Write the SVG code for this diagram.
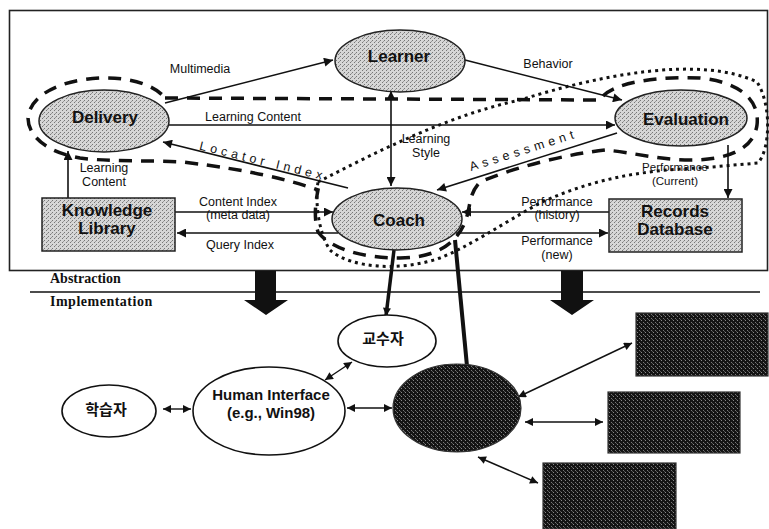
<svg xmlns="http://www.w3.org/2000/svg" width="769" height="529" viewBox="0 0 769 529">
<style>
.lbl{font-family:"Liberation Sans",Arial,sans-serif;font-size:12.5px;fill:#111;text-anchor:middle}
.sm{font-size:11.5px}
.nt{font-family:"Liberation Sans",Arial,sans-serif;font-size:17px;font-weight:bold;fill:#111;text-anchor:middle}
.kt{font-family:"Liberation Sans","Noto Sans CJK KR",sans-serif;font-size:15px;font-weight:bold;fill:#111;text-anchor:middle}
.ser{font-family:"Liberation Serif","Times New Roman",serif;font-size:14px;font-weight:bold;fill:#111}
.c{stroke:#111;stroke-width:1.6;fill:none}
.cb{stroke:#111;stroke-width:1.4;fill:none}
.lt{fill:url(#lt);stroke:#222;stroke-width:1.5}
.wh{fill:#fff;stroke:#111;stroke-width:1.6}
.dk{fill:url(#dk);stroke:#333;stroke-width:1.2}
</style>
<defs>
<pattern id="lt" width="4" height="4" patternUnits="userSpaceOnUse">
<rect width="4" height="4" fill="#d6d6d6"/><rect x="0" y="0" width="1" height="1" fill="#777"/><rect x="2" y="2" width="1" height="1" fill="#777"/><rect x="3" y="1" width="1" height="1" fill="#999"/>
</pattern>
<pattern id="dk" width="4" height="4" patternUnits="userSpaceOnUse">
<rect width="4" height="4" fill="#141414"/><rect x="1" y="0" width="1" height="1" fill="#888"/><rect x="3" y="2" width="1" height="1" fill="#777"/><rect x="0" y="3" width="1" height="1" fill="#555"/>
</pattern>
<marker id="ah" viewBox="0 0 10 10" refX="10" refY="5" markerWidth="11" markerHeight="9" orient="auto-start-reverse" markerUnits="userSpaceOnUse"><path d="M0,0 L10,5 L0,10 z" fill="#111"/></marker>
<marker id="as" viewBox="0 0 10 10" refX="10" refY="5" markerWidth="9" markerHeight="8" orient="auto-start-reverse" markerUnits="userSpaceOnUse"><path d="M0,0 L10,5 L0,10 z" fill="#111"/></marker>
</defs>
<rect width="769" height="529" fill="#fff"/>
<!-- frame -->
<rect x="9.5" y="10.5" width="758" height="260" fill="none" stroke="#222" stroke-width="1.6"/>
<line x1="30" y1="292" x2="760" y2="292" stroke="#111" stroke-width="1.6"/>
<text class="ser" x="50" y="283">Abstraction</text>
<text class="ser" x="50" y="306" letter-spacing="0.5">Implementation</text>
<!-- big arrows -->
<polygon points="255,271 276,271 276,300 288,300 266,315 244,300 255,300" fill="#111"/>
<polygon points="561,271 583,271 583,300 594,300 572,315 550,300 561,300" fill="#111"/>
<!-- boundary loops -->
<path d="M165,98 L600,100 C610,82 660,76 700,78 C740,82 760,100 757,125 C754,148 730,160 690,160 C660,160 630,152 605,150 C570,154 520,165 480,182 C470,192 470,205 468,212 C462,240 440,258 400,258 C360,258 330,248 318,232 C314,220 315,205 318,190 C290,180 250,170 183,162 C150,160 110,162 80,158 C45,152 28,135 28,118 C30,95 60,80 100,78 C130,77 155,85 165,98 Z" fill="none" stroke="#111" stroke-width="3.5" stroke-dasharray="13 9"/>
<path d="M318,182 C380,150 450,115 520,100 C600,75 700,55 757,82 C772,105 770,150 758,163 L700,168 C640,170 590,180 540,203 C500,225 470,246 440,258 C400,272 350,268 330,250 C318,232 315,200 318,182 Z" fill="none" stroke="#111" stroke-width="3" stroke-dasharray="3 4"/>
<!-- connectors -->
<g id="connectors">
<line class="c" x1="165" y1="103" x2="333" y2="60" marker-end="url(#ah)"/>
<line class="c" x1="465" y1="60" x2="622" y2="100" marker-end="url(#ah)"/>
<line class="c" x1="169" y1="125" x2="615" y2="125" marker-end="url(#ah)"/>
<line class="c" x1="391" y1="91" x2="391" y2="186" marker-start="url(#ah)" marker-end="url(#ah)"/>
<line class="c" x1="348" y1="188" x2="163" y2="142" marker-end="url(#ah)"/>
<line class="c" x1="617" y1="133" x2="437" y2="190" marker-end="url(#ah)"/>
<line class="c" x1="68" y1="198" x2="68" y2="151" marker-end="url(#ah)"/>
<line class="c" x1="175" y1="212" x2="333" y2="212" marker-end="url(#ah)"/>
<line class="c" x1="338" y1="233" x2="177" y2="233" marker-end="url(#ah)"/>
<line class="c" x1="609" y1="212" x2="462" y2="212" marker-end="url(#ah)"/>
<line class="c" x1="456" y1="233" x2="608" y2="233" marker-end="url(#ah)"/>
<line class="c" x1="728" y1="145" x2="728" y2="198" marker-end="url(#ah)"/>
<line x1="394" y1="250" x2="386" y2="316" stroke="#111" stroke-width="3.5" marker-end="url(#as)"/>
<line x1="455" y1="240" x2="467" y2="366" stroke="#111" stroke-width="4"/>
<line class="cb" x1="163" y1="409" x2="191" y2="409" marker-start="url(#as)" marker-end="url(#as)"/>
<line class="cb" x1="325" y1="380" x2="352" y2="362" marker-start="url(#as)" marker-end="url(#as)"/>
<line class="cb" x1="347" y1="408" x2="392" y2="408" marker-start="url(#as)" marker-end="url(#as)"/>
<line class="cb" x1="518" y1="397" x2="632" y2="343" marker-start="url(#as)" marker-end="url(#as)"/>
<line class="cb" x1="525" y1="422" x2="603" y2="422" marker-start="url(#as)" marker-end="url(#as)"/>
<line class="cb" x1="478" y1="457" x2="538" y2="483" marker-start="url(#as)" marker-end="url(#as)"/>
</g>
<!-- connector labels -->
<text class="lbl" x="200" y="73">Multimedia</text>
<text class="lbl" x="548" y="68">Behavior</text>
<text class="lbl" x="253" y="121">Learning Content</text>
<text class="lbl" x="426" y="143">Learning</text>
<text class="lbl" x="426" y="157">Style</text>
<text class="lbl" x="262" y="165" letter-spacing="4.2" transform="rotate(13.8 262 165)">Locator Index</text>
<text class="lbl" x="525" y="154" letter-spacing="4.5" transform="rotate(-17.6 525 154)">Assessment</text>
<text class="lbl" x="104" y="172">Learning</text>
<text class="lbl" x="104" y="186">Content</text>
<text class="lbl" x="238" y="206">Content Index</text>
<text class="lbl" x="238" y="219">(meta data)</text>
<text class="lbl" x="240" y="249">Query Index</text>
<text class="lbl" x="557" y="206">Performance</text>
<text class="lbl" x="557" y="219">(history)</text>
<text class="lbl" x="557" y="245">Performance</text>
<text class="lbl" x="557" y="259">(new)</text>
<text class="lbl sm" x="675" y="171">Performance</text>
<text class="lbl sm" x="675" y="185">(Current)</text>
<!-- nodes -->
<g id="delivery"><ellipse class="lt" cx="104" cy="121" rx="65" ry="31"/><text class="nt" x="105" y="123">Delivery</text></g>
<g id="learner"><ellipse class="lt" cx="400" cy="61" rx="65" ry="31"/><text class="nt" x="399" y="62">Learner</text></g>
<g id="evaluation"><ellipse class="lt" cx="681" cy="118" rx="66" ry="28"/><text class="nt" x="686" y="125">Evaluation</text></g>
<g id="coach"><ellipse class="lt" cx="397" cy="219" rx="65" ry="31"/><text class="nt" x="399" y="226">Coach</text></g>
<g id="knowledge-library"><rect class="lt" x="42" y="198" width="133" height="53"/><text class="nt" x="107" y="216" font-size="16">Knowledge</text><text class="nt" x="107" y="234" font-size="16">Library</text></g>
<g id="records-database"><rect class="lt" x="609" y="199" width="133" height="53"/><text class="nt" x="675" y="217" font-size="16">Records</text><text class="nt" x="675" y="235" font-size="16">Database</text></g>
<g id="professor"><ellipse class="wh" cx="387" cy="341" rx="49" ry="26"/><text class="kt" x="383" y="344" font-size="14">교수자</text></g>
<g id="student"><ellipse class="wh" cx="109" cy="411" rx="47" ry="26"/><text class="kt" x="106" y="415">학습자</text></g>
<g id="human-interface"><ellipse class="wh" cx="269" cy="411" rx="76" ry="44"/><text class="kt" x="271" y="400">Human Interface</text><text class="kt" x="271" y="418">(e.g., Win98)</text></g>
<g id="dark-core"><ellipse class="dk" cx="457" cy="408" rx="64" ry="44"/></g>
<g id="box1"><rect class="dk" x="636" y="313" width="132" height="63"/></g>
<g id="box2"><rect class="dk" x="608" y="392" width="132" height="61"/></g>
<g id="box3"><rect class="dk" x="543" y="463" width="133" height="66"/></g>
</svg>
